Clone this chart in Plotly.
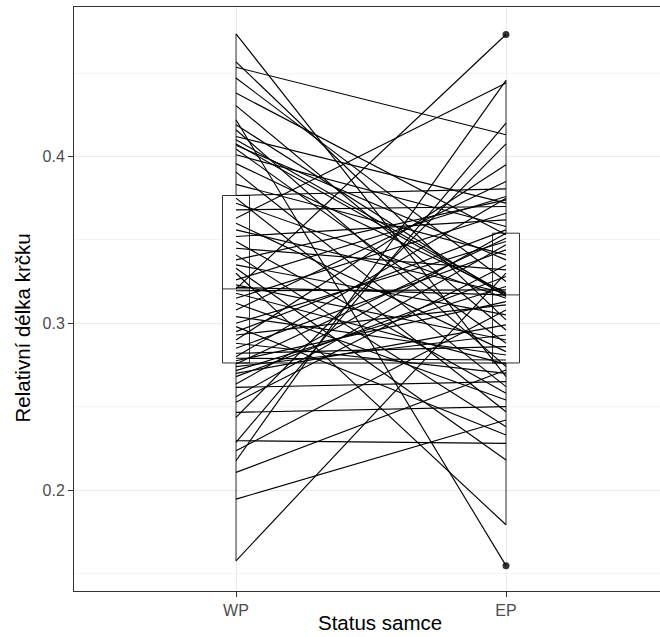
import plotly.graph_objects as go

# Paired values: each index is one male pair (WP value, EP value)
wp_values = [
    0.4735, 0.4567, 0.4535, 0.4470, 0.4380, 0.4305, 0.4220, 0.4190, 0.4160, 0.4120,
    0.4100, 0.4075, 0.4067, 0.4045, 0.4010, 0.3957, 0.3906, 0.3833, 0.3766, 0.3750,
    0.3720, 0.3680, 0.3630, 0.3600, 0.3560, 0.3520, 0.3490, 0.3450, 0.3410, 0.3380,
    0.3350, 0.3330, 0.3300, 0.3260, 0.3230, 0.3215, 0.3206, 0.3195, 0.3180, 0.3150,
    0.3120, 0.3080, 0.3040, 0.3000, 0.2980, 0.2950, 0.2930, 0.2900, 0.2880, 0.2850,
    0.2820, 0.2800, 0.2790, 0.2775, 0.2762, 0.2756, 0.2740, 0.2716, 0.2700, 0.2680,
    0.2636, 0.2616, 0.2560, 0.2526, 0.2466, 0.2436, 0.2296, 0.2286, 0.2236, 0.2176,
    0.2106, 0.1946, 0.1576,
]
ep_values = [
    0.2680, 0.3020, 0.4130, 0.3250, 0.3530, 0.2960, 0.1547, 0.3160, 0.2740, 0.3720,
    0.3175, 0.3165, 0.3380, 0.2880, 0.3580, 0.3185, 0.2620, 0.3410, 0.3806, 0.2470,
    0.3150, 0.3700, 0.4440, 0.2830, 0.3180, 0.3620, 0.2580, 0.3320, 0.2380, 0.3740,
    0.3050, 0.2180, 0.1792, 0.3760, 0.2900, 0.3170, 0.4731, 0.3200, 0.2755, 0.3660,
    0.2540, 0.3850, 0.2810, 0.3490, 0.2330, 0.3560, 0.3110, 0.3950, 0.2700, 0.3440,
    0.2860, 0.3750, 0.2780, 0.3130, 0.2762, 0.3510, 0.2930, 0.3220, 0.2990, 0.3280,
    0.3540, 0.2650, 0.3470, 0.3350, 0.2500, 0.4076, 0.2280, 0.4200, 0.3080, 0.4456,
    0.2720, 0.2420, 0.3300,
]
categories = ["WP", "EP"]
y_tick_values = [0.2, 0.3, 0.4]
y_tick_labels = ["0.2", "0.3", "0.4"]

FONT = "Liberation Sans, Arial, sans-serif"

fig = go.Figure()

for cat, vals in zip(categories, [wp_values, ep_values]):
    fig.add_trace(go.Box(
        x=[cat] * len(vals), y=vals, name=cat,
        quartilemethod="inclusive", boxpoints="outliers",
        fillcolor="white", line=dict(color="#333333", width=1),
        whiskerwidth=0, width=0.1,
        marker=dict(color="#333333", size=7, line=dict(width=0)),
        showlegend=False, hoverinfo="y",
    ))

lx, ly = [], []
for a, b in zip(wp_values, ep_values):
    lx += [categories[0], categories[1], None]
    ly += [a, b, None]
fig.add_trace(go.Scatter(
    x=lx, y=ly, mode="lines", line=dict(color="black", width=1.15),
    showlegend=False, hoverinfo="skip", connectgaps=False,
))

L, T, B = 74, 7, 46
W, H = 660, 637
plot_w = W - L
plot_h = H - T - B

fig.update_layout(
    width=W, height=H,
    margin=dict(l=L, r=0, t=T, b=B, pad=0),
    paper_bgcolor="white", plot_bgcolor="white",
    font=dict(family=FONT),
    xaxis=dict(
        type="category", categoryorder="array", categoryarray=categories,
        range=[-0.6, plot_w / 270 - 0.6],
        showline=True, mirror=True, linecolor="#333333", linewidth=1,
        showgrid=True, gridcolor="#EBEBEB", gridwidth=1,
        ticks="outside", ticklen=5, tickcolor="#333333",
        tickfont=dict(size=16, color="#4D4D4D", family=FONT),
        zeroline=False,
    ),
    yaxis=dict(
        range=[0.1395, 0.4896],
        tickvals=y_tick_values, ticktext=y_tick_labels,
        showline=True, mirror=False, linecolor="#333333", linewidth=1,
        showgrid=True, gridcolor="#EBEBEB", gridwidth=1,
        minor=dict(tickvals=[0.15, 0.25, 0.35, 0.45], showgrid=True,
                   gridcolor="#F4F4F4", gridwidth=1, ticks=""),
        ticks="outside", ticklen=5, tickcolor="#333333",
        tickfont=dict(size=16, color="#4D4D4D", family=FONT),
        zeroline=False,
    ),
    annotations=[
        dict(text="Status samce", xref="paper", yref="paper",
             x=(380 - L) / plot_w, y=(H - B - 622) / plot_h,
             xanchor="center", yanchor="middle", showarrow=False,
             font=dict(size=20.5, color="black", family=FONT)),
        dict(text="Relativní délka krčku", xref="paper", yref="paper",
             x=(22.5 - L) / plot_w, y=(H - B - 328) / plot_h,
             xanchor="center", yanchor="middle", showarrow=False, textangle=-90,
             font=dict(size=20.5, color="black", family=FONT)),
    ],
)

fig.write_html("out.html")
